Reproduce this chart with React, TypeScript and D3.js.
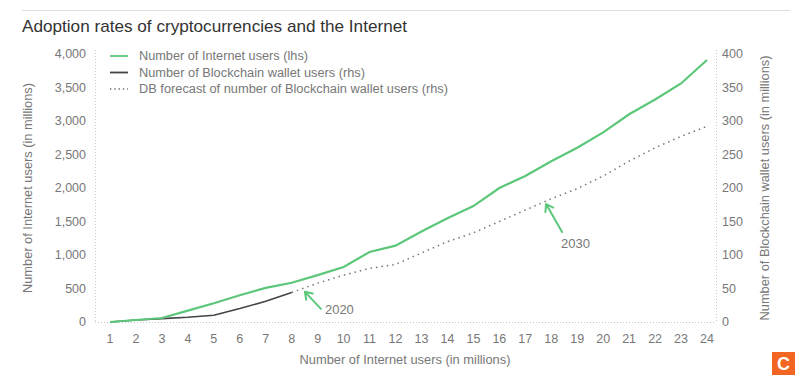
import React from "react";
import * as d3 from "d3";

const years = d3.range(1, 25);
const internetUsers = [0, 30, 60, 170, 280, 400, 510, 585, 700, 820, 1045, 1140, 1350, 1550, 1730, 2000, 2180, 2400, 2600, 2830, 3100, 3320, 3560, 3910];
const walletYears = [1, 2, 3, 4, 5, 6, 7, 8];
const walletUsers = [0, 3, 5, 7, 10, 20, 31, 44];
const forecastYears = [8, 9, 10, 11, 12, 13, 14, 15, 16, 17, 18, 19, 20, 21, 22, 23, 24];
const forecastUsers = [44, 58, 70, 80, 86, 103, 120, 133, 150, 167, 184, 199, 218, 240, 260, 277, 292];
const leftTicks = [0, 500, 1000, 1500, 2000, 2500, 3000, 3500, 4000];
const rightTicks = [0, 50, 100, 150, 200, 250, 300, 350, 400];
const legendLabels = [
  "Number of Internet users (lhs)",
  "Number of Blockchain wallet users (rhs)",
  "DB forecast of number of Blockchain wallet users (rhs)",
];
const annotationLabels = ["2020", "2030"];
const annotationYears = [8.51, 17.8];
const annotationValues = [45, 176];

const GREEN = "#5cc77b";
const FONT = "'Liberation Sans', Arial, sans-serif";

export default function App() {
  const x = d3.scaleLinear().domain([1, 24]).range([110, 707]);
  const yL = d3.scaleLinear().domain([0, 4000]).range([322, 54]);
  const yR = d3.scaleLinear().domain([0, 400]).range([322, 54]);

  const lineL = d3.line<number>().x((_, i) => x(years[i])).y((d) => yL(d));
  const lineW = d3.line<number>().x((_, i) => x(walletYears[i])).y((d) => yR(d));
  const lineF = d3.line<number>().x((_, i) => x(forecastYears[i])).y((d) => yR(d));

  const arrow = (tx: number, ty: number, fx: number, fy: number) => {
    const ang = Math.atan2(fy - ty, fx - tx);
    const L = 8;
    const a1 = ang + 0.6;
    const a2 = ang - 0.6;
    return `M${fx},${fy}L${tx},${ty}M${tx + L * Math.cos(a1)},${ty + L * Math.sin(a1)}L${tx},${ty}L${tx + L * Math.cos(a2)},${ty + L * Math.sin(a2)}`;
  };

  const offsets = [
    { dx: 16, dy: 17, lx: 20, ly: 18 },
    { dx: 16, dy: 28, lx: 15, ly: 39 },
  ];
  const ann = annotationLabels.map((label, i) => {
    const tx = x(annotationYears[i]);
    const ty = yR(annotationValues[i]);
    const o = offsets[i];
    return { label, tx, ty, fx: tx + o.dx, fy: ty + o.dy, lx: tx + o.lx, ly: ty + o.ly };
  });

  const legendWidths = [169, 226, 309];

  return (
    <svg width={800} height={377} style={{ position: "absolute", left: 0, top: 0, background: "#fff", fontFamily: FONT }}>
      <line x1={22} x2={790} y1={10.5} y2={10.5} stroke="#ddd" strokeWidth={1} />
      <text x={22} y={32} fontSize={17} fill="#333" textLength={385} lengthAdjust="spacingAndGlyphs">
        Adoption rates of cryptocurrencies and the Internet
      </text>

      {/* axes */}
      <line x1={95.5} x2={95.5} y1={50} y2={322} stroke="#c8c8c8" strokeDasharray="1,2" />
      <line x1={716.5} x2={716.5} y1={50} y2={322} stroke="#c8c8c8" strokeDasharray="1,2" />
      <line x1={95} x2={716} y1={322.5} y2={322.5} stroke="#c8c8c8" strokeDasharray="1,2" />

      {leftTicks.map((t) => (
        <text key={"l" + t} x={86} y={yL(t)} dy="0.35em" textAnchor="end" fontSize={12.5} fill="#777">
          {d3.format(",")(t)}
        </text>
      ))}
      {rightTicks.map((t) => (
        <text key={"r" + t} x={722} y={yR(t)} dy="0.35em" textAnchor="start" fontSize={12.5} fill="#777">
          {t}
        </text>
      ))}
      {years.map((t) => (
        <text key={"x" + t} x={x(t)} y={339} dy="0.35em" textAnchor="middle" fontSize={12.5} fill="#777">
          {t}
        </text>
      ))}

      <text transform="translate(32,188) rotate(-90)" textAnchor="middle" fontSize={12.5} fill="#777" textLength={210} lengthAdjust="spacingAndGlyphs">
        Number of Internet users (in millions)
      </text>
      <text transform="translate(769,188) rotate(-90)" textAnchor="middle" fontSize={12.5} fill="#777" textLength={265} lengthAdjust="spacingAndGlyphs">
        Number of Blockchain wallet users (in millions)
      </text>
      <text x={405} y={364} textAnchor="middle" fontSize={12.5} fill="#777" textLength={211} lengthAdjust="spacingAndGlyphs">
        Number of Internet users (in millions)
      </text>

      {/* series */}
      <path d={lineF(forecastUsers) || ""} fill="none" stroke="#777" strokeWidth={1.5} strokeDasharray="1.5,4" />
      <path d={lineW(walletUsers) || ""} fill="none" stroke="#444" strokeWidth={1.6} />
      <path d={lineL(internetUsers) || ""} fill="none" stroke={GREEN} strokeWidth={2.2} />

      {/* legend */}
      {legendLabels.map((l, i) => {
        const y = 56 + i * 16.5;
        return (
          <g key={l}>
            <line x1={110} x2={128} y1={y} y2={y}
              stroke={i === 0 ? GREEN : i === 1 ? "#444" : "#666"}
              strokeWidth={i === 2 ? 1.3 : 1.8}
              strokeDasharray={i === 2 ? "1.3,3" : undefined} />
            <text x={139} y={y} dy="0.35em" fontSize={12.5} fill="#777" textLength={legendWidths[i]} lengthAdjust="spacingAndGlyphs">{l}</text>
          </g>
        );
      })}

      {/* annotations */}
      {ann.map((a) => (
        <g key={a.label}>
          <path d={arrow(a.tx, a.ty, a.fx, a.fy)} fill="none" stroke={GREEN} strokeWidth={2} strokeLinecap="round" strokeLinejoin="round" />
          <text x={a.lx} y={a.ly} dy="0.35em" fontSize={13} fill="#777">{a.label}</text>
        </g>
      ))}

      {/* logo */}
      <rect x={772} y={352} width={23} height={23} fill="#f26522" />
      <text x={783.5} y={364} dy="0.36em" textAnchor="middle" fontSize={18} fontWeight="bold" fill="#fff">C</text>
    </svg>
  );
}
